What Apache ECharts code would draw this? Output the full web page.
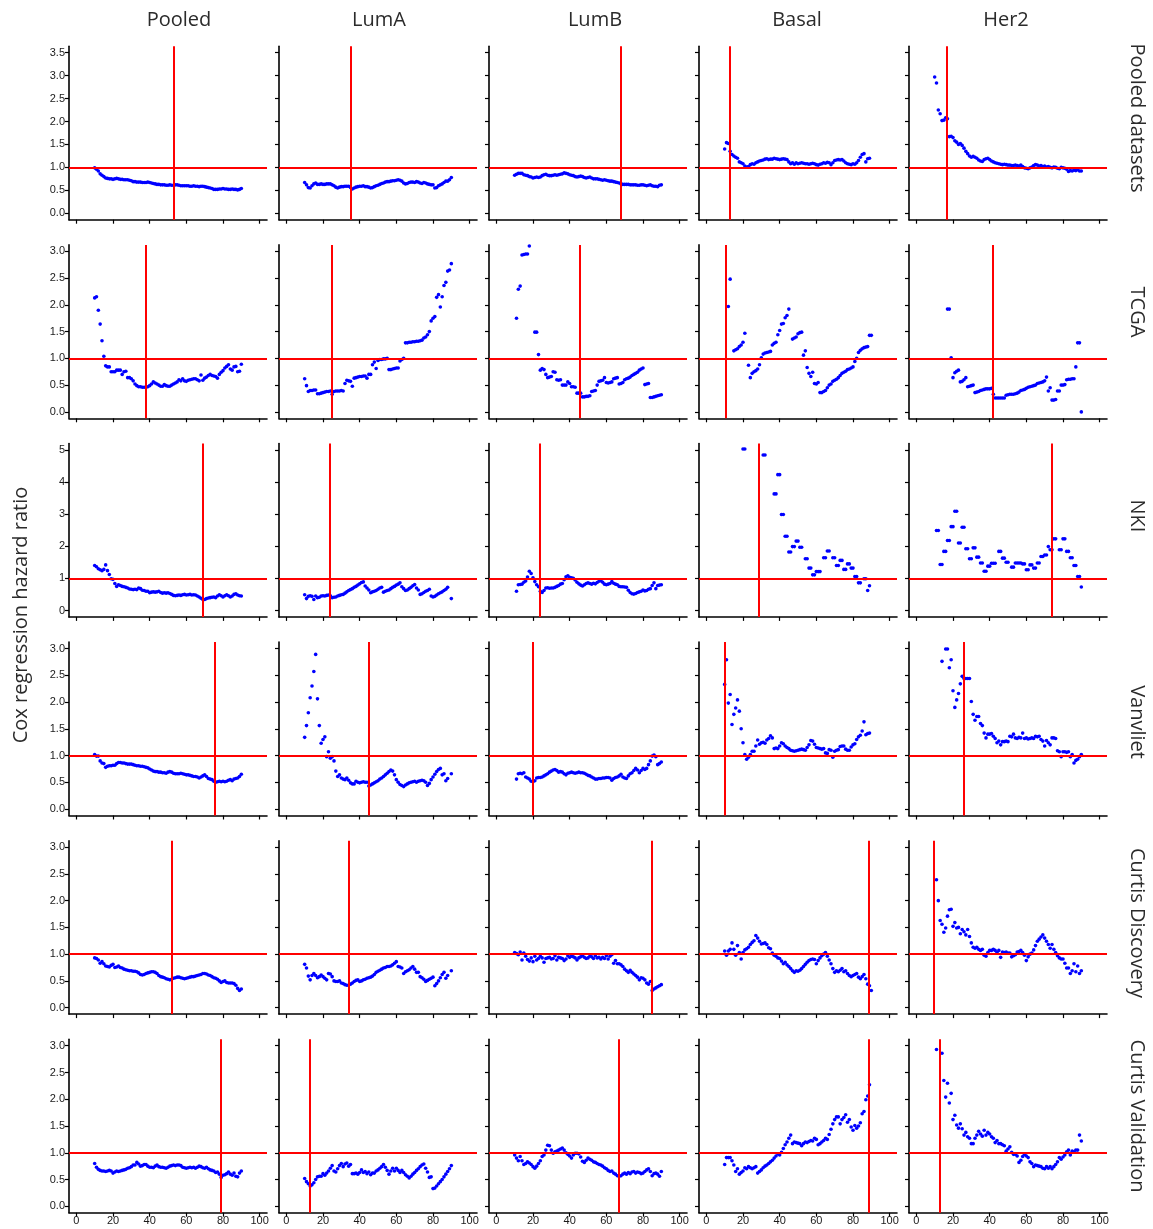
<!DOCTYPE html>
<html>
<head>
<meta charset="utf-8">
<script src="https://cdn.jsdelivr.net/npm/echarts@6/dist/echarts.min.js"></script>
<style>
  html, body { margin: 0; padding: 0; background: #ffffff; }
  #chart { width: 1153px; height: 1229px; }
</style>
</head>
<body>
<div id="chart"></div>
<script>
// Percentile of the expression cutoff (x value shared by every panel)
const percentile = [
  10, 11, 12, 13, 14, 15, 16, 17, 18, 19,
  20, 21, 22, 23, 24, 25, 26, 27, 28, 29,
  30, 31, 32, 33, 34, 35, 36, 37, 38, 39,
  40, 41, 42, 43, 44, 45, 46, 47, 48, 49,
  50, 51, 52, 53, 54, 55, 56, 57, 58, 59,
  60, 61, 62, 63, 64, 65, 66, 67, 68, 69,
  70, 71, 72, 73, 74, 75, 76, 77, 78, 79,
  80, 81, 82, 83, 84, 85, 86, 87, 88, 89,
  90
];

const subtypes = ['Pooled', 'LumA', 'LumB', 'Basal', 'Her2'];
const datasets = ['Pooled datasets', 'TCGA', 'NKI', 'Vanvliet', 'Curtis Discovery', 'Curtis Validation'];
const yTitle = 'Cox regression hazard ratio';

// Axis tick values
const percentTicks = [0, 20, 40, 60, 80, 100];
const hrTicks35 = [0, 0.5, 1, 1.5, 2, 2.5, 3, 3.5];
const hrTicks30 = [0, 0.5, 1, 1.5, 2, 2.5, 3];
const hrTicks5 = [0, 1, 2, 3, 4, 5];

// Optimal cutoff percentile per panel (Pooled, LumA, LumB, Basal, Her2)
const cutPooled = [53, 35, 68, 12.6, 16.5];
const cutTcga = [38, 24.6, 45.5, 10.5, 41.5];
const cutNki = [69, 23.5, 23.5, 28.5, 74];
const cutVanvliet = [75.7, 44.7, 19.7, 10.2, 25.7];
const cutCurtisDisc = [51.8, 33.8, 84.6, 88.6, 9.6];
const cutCurtisVal = [79, 13, 66.8, 88.8, 13];

// Hazard ratios, one value per percentile (null = no estimate)
const pooledAll = [
  0.99, 0.96, 0.92, 0.86, 0.83, 0.80, 0.77, 0.76, 0.75, 0.75,
  0.74, 0.75, 0.76, 0.75, 0.74, 0.74, 0.73, 0.73, 0.73, 0.72,
  0.71, 0.69, 0.69, 0.68, 0.68, 0.68, 0.67, 0.67, 0.67, 0.68,
  0.67, 0.66, 0.65, 0.64, 0.63, 0.63, 0.62, 0.62, 0.62, 0.61,
  0.61, 0.62, 0.61, 0.61, 0.62, 0.62, 0.61, 0.60, 0.60, 0.60,
  0.60, 0.60, 0.59, 0.59, 0.60, 0.59, 0.59, 0.58, 0.59, 0.59,
  0.58, 0.57, 0.56, 0.55, 0.54, 0.52, 0.52, 0.52, 0.53, 0.53,
  0.54, 0.53, 0.53, 0.52, 0.52, 0.53, 0.52, 0.52, 0.51, 0.52,
  0.54
];
const pooledLumA = [
  0.67, 0.62, 0.56, 0.55, 0.60, 0.64, 0.66, 0.63, 0.63, 0.64,
  0.63, 0.63, 0.64, 0.64, 0.64, 0.62, 0.60, 0.57, 0.55, 0.57,
  0.58, 0.58, 0.59, 0.59, 0.59, 0.56, 0.53, 0.55, 0.57, 0.58,
  0.59, 0.59, 0.60, 0.58, 0.58, 0.57, 0.55, 0.56, 0.58, 0.60,
  0.61, 0.63, 0.65, 0.66, 0.68, 0.69, 0.69, 0.70, 0.71, 0.71,
  0.72, 0.73, 0.72, 0.70, 0.66, 0.64, 0.65, 0.67, 0.68, 0.68,
  0.67, 0.69, 0.68, 0.66, 0.65, 0.67, 0.66, 0.64, 0.63, 0.62,
  0.62, 0.55, 0.56, 0.60, 0.62, 0.64, 0.67, 0.70, 0.70, 0.73,
  0.78
];
const pooledLumB = [
  0.83, 0.85, 0.87, 0.87, 0.87, 0.84, 0.83, 0.82, 0.80, 0.79,
  0.77, 0.78, 0.79, 0.78, 0.79, 0.82, 0.84, 0.85, 0.83, 0.82,
  0.82, 0.83, 0.84, 0.83, 0.84, 0.85, 0.86, 0.88, 0.87, 0.86,
  0.84, 0.83, 0.82, 0.80, 0.79, 0.80, 0.81, 0.80, 0.78, 0.77,
  0.78, 0.79, 0.77, 0.75, 0.75, 0.75, 0.74, 0.73, 0.72, 0.73,
  0.72, 0.71, 0.70, 0.70, 0.69, 0.68, 0.67, 0.66, 0.64, 0.63,
  0.63, 0.63, 0.63, 0.62, 0.62, 0.62, 0.62, 0.61, 0.61, 0.62,
  0.62, 0.61, 0.60, 0.61, 0.62, 0.60, 0.59, 0.59, 0.58, 0.61,
  0.62
];
const pooledBasal = [
  1.40, 1.54, 1.52, 1.35, 1.28, 1.25, 1.22, 1.20, 1.12, 1.10,
  1.08, 1.03, 1.01, 1.02, 1.06, 1.08, 1.07, 1.10, 1.12, 1.14,
  1.15, 1.16, 1.18, 1.19, 1.17, 1.18, 1.18, 1.20, 1.19, 1.18,
  1.17, 1.18, 1.19, 1.18, 1.17, 1.12, 1.08, 1.10, 1.07, 1.10,
  1.08, 1.09, 1.10, 1.09, 1.08, 1.08, 1.07, 1.08, 1.09, 1.08,
  1.06, 1.05, 1.07, 1.08, 1.10, 1.09, 1.11, 1.10, 1.06, 1.10,
  1.15, 1.16, 1.17, 1.16, 1.17, 1.14, 1.10, 1.08, 1.07, 1.06,
  1.08, 1.07, 1.10, 1.15, 1.22, 1.28, 1.30, 1.12, 1.19, 1.20,
  null
];
const pooledHer2 = [
  2.97, 2.84, 2.25, 2.17, 2.02, 2.03, 2.08, 2.06, 1.67, 1.68,
  1.65, 1.58, 1.55, 1.50, 1.52, 1.48, 1.42, 1.35, 1.30, 1.25,
  1.22, 1.24, 1.22, 1.20, 1.16, 1.14, 1.13, 1.17, 1.19, 1.20,
  1.17, 1.14, 1.12, 1.10, 1.09, 1.08, 1.07, 1.06, 1.07, 1.06,
  1.05, 1.05, 1.04, 1.04, 1.05, 1.04, 1.03, 1.05, 1.02, 0.99,
  0.98, 0.97, 0.99, 1.01, 1.04, 1.06, 1.05, 1.03, 1.04, 1.02,
  1.03, 1.01, 1.02, 1.00, 0.99, 1.01, 1.00, 0.98, 0.97, 1.00,
  0.99, 0.98, 0.96, 0.91, 0.93, 0.92, 0.94, 0.93, 0.95, 0.92,
  0.92
];

const tcgaAll = [
  2.13, 2.15, 1.90, 1.64, 1.33, 1.04, 0.86, 0.84, 0.84, 0.75,
  0.75, 0.75, 0.78, 0.78, 0.78, 0.70, 0.75, 0.76, 0.64, 0.64,
  0.62, 0.58, 0.52, 0.49, 0.47, 0.47, 0.46, 0.46, 0.46, 0.47,
  0.49, 0.52, 0.56, 0.54, 0.52, 0.50, 0.48, 0.48, 0.51, 0.49,
  0.48, 0.48, 0.50, 0.52, 0.54, 0.56, 0.60, 0.58, 0.62, 0.58,
  0.57, 0.59, 0.60, 0.61, 0.62, 0.62, 0.60, 0.58, 0.69, 0.59,
  0.63, 0.65, 0.68, 0.70, 0.68, 0.67, 0.66, 0.63, 0.70, 0.74,
  0.77, 0.82, 0.85, 0.88, 0.80, 0.78, 0.84, 0.85, 0.75, 0.76,
  0.89
];
const tcgaLumA = [
  0.62, 0.49, 0.38, 0.40, 0.40, 0.41, 0.41, 0.34, 0.34, 0.35,
  0.36, 0.37, 0.38, 0.38, 0.39, 0.33, 0.38, 0.39, 0.39, 0.39,
  0.40, 0.39, 0.53, 0.59, 0.58, 0.57, 0.48, 0.63, 0.64, 0.65,
  0.66, 0.66, 0.67, 0.67, 0.63, 0.70, 0.70, 0.88, 0.93, 0.81,
  0.96, 0.98, 0.98, 0.99, 0.99, 1.00, 0.79, 0.79, 0.80, 0.81,
  0.82, 0.82, 0.95, 0.98, 1.00, 1.29, 1.29, 1.30, 1.30, 1.31,
  1.31, 1.32, 1.32, 1.33, 1.34, 1.38, 1.40, 1.44, 1.50, 1.70,
  1.75, 1.78, 2.14, 2.19, 1.96, 2.15, 2.36, 2.42, 2.63, 2.65,
  2.77
];
const tcgaLumB = [
  null, 1.75, 2.29, 2.35, 2.93, 2.94, 2.95, 2.95, 3.10, null,
  null, 1.49, 1.49, 1.07, 0.78, 0.81, 0.79, 0.70, 0.64, 0.65,
  0.66, 0.75, 0.74, 0.60, 0.59, 0.60, 0.50, 0.50, 0.50, 0.56,
  0.53, 0.47, 0.47, 0.46, 0.35, 0.35, 0.35, 0.28, 0.28, 0.29,
  0.29, 0.30, 0.38, 0.39, 0.40, 0.50, 0.57, 0.58, 0.59, 0.64,
  0.55, 0.54, 0.55, 0.56, 0.62, 0.63, 0.64, 0.52, 0.53, 0.55,
  0.60, 0.62, 0.63, 0.65, 0.68, 0.70, 0.72, 0.74, 0.78, 0.80,
  0.82, 0.51, 0.52, 0.53, 0.27, 0.27, 0.28, 0.29, 0.30, 0.31,
  0.32
];
const tcgaBasal = [
  null, null, 1.97, 2.48, null, 1.14, 1.16, 1.18, 1.22, 1.25,
  1.30, 1.47, null, 0.87, 0.64, 0.72, 0.75, 0.77, 0.80, 0.88,
  1.01, 1.08, 1.10, 1.11, 1.12, 1.13, 1.25, 1.28, 1.30, 1.44,
  1.52, 1.64, 1.65, 1.76, 1.80, 1.92, null, 1.36, 1.38, 1.40,
  1.46, 1.48, 1.49, 1.06, 1.14, 0.83, 0.72, 0.66, 0.74, 0.53,
  0.52, 0.55, 0.36, 0.36, 0.38, 0.40, 0.45, 0.50, 0.52, 0.57,
  0.59, 0.61, 0.64, 0.68, 0.72, 0.74, 0.76, 0.79, 0.80, 0.82,
  0.84, 0.94, 1.00, 1.11, 1.15, 1.18, 1.20, 1.21, 1.22, 1.43,
  1.43
];
const tcgaHer2 = [
  null, null, null, null, null, null, null, 1.92, 1.92, 1.01,
  0.64, 0.73, 0.76, 0.78, 0.56, 0.57, 0.60, 0.64, 0.47, 0.48,
  0.49, 0.50, 0.36, 0.37, 0.38, 0.40, 0.41, 0.42, 0.43, 0.43,
  0.43, 0.44, 0.33, 0.26, 0.26, 0.26, 0.26, 0.26, 0.26, 0.31,
  0.32, 0.33, 0.33, 0.33, 0.34, 0.35, 0.37, 0.40, 0.41, 0.42,
  0.44, 0.46, 0.47, 0.48, 0.49, 0.50, 0.53, 0.54, 0.55, 0.56,
  0.58, 0.65, 0.39, 0.45, 0.22, 0.22, 0.23, 0.39, 0.39, 0.50,
  0.50, 0.51, 0.60, 0.61, 0.61, 0.62, 0.62, 0.84, 1.29, 1.29,
  0.00
];

const nkiAll = [
  1.40, 1.36, 1.30, 1.27, 1.24, 1.28, 1.42, 1.24, 1.12, 0.99,
  0.97, 0.84, 0.75, 0.80, 0.78, 0.75, 0.74, 0.72, 0.70, 0.67,
  0.66, 0.65, 0.66, 0.65, 0.70, 0.68, 0.63, 0.62, 0.60, 0.60,
  0.55, 0.57, 0.58, 0.57, 0.58, 0.60, 0.56, 0.54, 0.55, 0.54,
  0.55, 0.53, 0.50, 0.47, 0.46, 0.47, 0.48, 0.47, 0.49, 0.50,
  0.48, 0.49, 0.50, 0.48, 0.49, 0.48, 0.45, 0.42, 0.38, 0.34,
  0.34, 0.37, 0.39, 0.40, 0.41, 0.42, 0.40, 0.45, 0.49, 0.46,
  0.42, 0.46, 0.49, 0.46, 0.42, 0.45, 0.50, 0.52, 0.48, 0.46,
  0.45
];
const nkiLumA = [
  0.49, 0.37, 0.44, 0.46, 0.44, 0.34, 0.45, 0.40, 0.41, 0.45,
  0.46, 0.45, 0.47, 0.48, 0.46, 0.40, 0.41, 0.42, 0.45, 0.47,
  0.49, 0.50, 0.54, 0.58, 0.62, 0.65, 0.68, 0.72, 0.75, 0.79,
  0.83, 0.87, 0.89, 0.76, 0.70, 0.64, 0.55, 0.58, 0.60, 0.62,
  0.66, 0.70, 0.72, 0.57, 0.60, 0.62, 0.64, 0.68, 0.72, 0.75,
  0.79, 0.82, 0.86, 0.74, 0.68, 0.62, 0.64, 0.68, 0.72, 0.77,
  0.81, 0.70, 0.64, 0.50, 0.52, 0.56, 0.60, 0.62, 0.66, 0.45,
  0.42, 0.44, 0.48, 0.52, 0.55, 0.58, 0.62, 0.66, 0.72, null,
  0.37
];
const nkiLumB = [
  null, 0.60, 0.80, 0.81, 0.82, 0.88, 0.92, 1.04, 1.22, 1.15,
  1.02, 0.90, 0.80, 0.74, 0.60, 0.56, 0.62, 0.70, 0.71, 0.69,
  0.70, 0.70, 0.72, 0.75, 0.78, 0.82, 0.84, 0.96, 1.05, 1.08,
  1.03, 1.02, 1.00, 0.95, 0.88, 0.83, 0.79, 0.76, 0.80, 0.84,
  0.86, 0.84, 0.82, 0.85, 0.83, 0.87, 0.91, 0.93, 0.88, 0.82,
  0.80, 0.82, 0.84, 0.90, 0.85, 0.82, 0.80, 0.75, 0.74, 0.74,
  0.73, 0.72, 0.63, 0.56, 0.52, 0.51, 0.53, 0.56, 0.58, 0.60,
  0.64, 0.61, 0.62, 0.66, 0.68, 0.78, 0.86, 0.68, 0.78, 0.79,
  0.80
];
const nkiBasal = [
  null, null, null, null, null, null, null, null, null, null,
  5.03, 5.03, null, null, null, null, null, null, null, null,
  null, 4.84, 4.84, null, null, null, null, 3.63, 3.63, 4.23,
  4.23, 2.99, 2.99, 2.31, 2.31, 1.82, 1.82, 1.99, 1.99, 2.16,
  2.16, 1.97, 1.97, null, 1.61, 1.61, 1.32, 1.32, 1.11, 1.11,
  1.21, 1.21, 1.21, null, 1.64, 1.64, 1.85, 1.85, null, 1.64,
  1.64, 1.40, 1.40, 1.56, 1.56, 1.28, 1.28, 1.45, 1.45, 1.32,
  1.32, 1.06, 1.06, 0.86, 0.86, null, 0.99, 0.99, 0.62, 0.77,
  null
];
const nkiHer2 = [
  null, 2.49, 2.49, 1.43, 1.43, 1.84, 1.84, 2.18, 2.18, 2.61,
  2.61, 3.09, 3.09, 2.10, 2.10, 2.59, 2.59, 1.92, 1.92, 1.61,
  1.61, 1.95, 1.95, 1.66, 1.66, 1.48, 1.48, 1.22, 1.22, 1.38,
  1.38, 1.47, 1.47, 1.47, null, 1.84, 1.84, 1.63, 1.63, 1.50,
  1.50, null, 1.35, 1.35, 1.48, 1.48, 1.48, 1.48, 1.45, 1.45,
  1.27, 1.27, 1.42, 1.42, 1.32, 1.32, 1.48, 1.48, 1.68, 1.68,
  1.73, 1.73, 1.99, 1.89, 1.89, 2.23, 2.23, null, 1.89, 1.89,
  2.23, 2.23, 1.84, 1.84, 1.64, 1.64, 1.40, 1.40, 1.06, 1.06,
  0.73
];

const vanvlietAll = [
  1.02, 0.99, 0.99, 0.90, 0.86, 0.85, 0.78, 0.80, 0.81, 0.81,
  0.82, 0.82, 0.85, 0.87, 0.87, 0.86, 0.86, 0.85, 0.84, 0.84,
  0.84, 0.83, 0.82, 0.81, 0.81, 0.80, 0.80, 0.79, 0.78, 0.77,
  0.75, 0.73, 0.71, 0.70, 0.70, 0.69, 0.69, 0.68, 0.68, 0.67,
  0.69, 0.70, 0.69, 0.67, 0.66, 0.66, 0.66, 0.67, 0.66, 0.65,
  0.64, 0.64, 0.63, 0.62, 0.61, 0.61, 0.60, 0.58, 0.60, 0.62,
  0.64, 0.61, 0.57, 0.56, 0.55, 0.52, 0.50, 0.51, 0.52, 0.51,
  0.52, 0.51, 0.52, 0.54, 0.55, 0.53, 0.56, 0.57, 0.58, 0.61,
  0.65
];
const vanvlietLumA = [
  1.34, 1.56, 1.80, 2.08, 2.30, 2.57, 2.89, 2.06, 1.56, 1.23,
  1.30, 1.35, 0.98, 1.07, 0.95, 0.98, 0.90, 0.71, 0.61, 0.64,
  0.58, 0.56, 0.55, 0.58, 0.54, 0.49, 0.47, 0.47, 0.52, 0.50,
  0.49, 0.50, 0.51, 0.50, 0.50, 0.43, 0.45, 0.47, 0.49, 0.51,
  0.53, 0.56, 0.58, 0.61, 0.64, 0.67, 0.70, 0.73, 0.71, 0.64,
  0.55, 0.50, 0.46, 0.44, 0.42, 0.45, 0.47, 0.49, 0.50, 0.51,
  0.52, 0.50, 0.52, 0.53, 0.54, 0.53, 0.50, 0.44, 0.48, 0.55,
  0.60, 0.65, 0.70, 0.74, 0.76, 0.64, 0.66, 0.53, 0.57, null,
  0.66
];
const vanvlietLumB = [
  null, 0.56, 0.66, 0.67, 0.66, 0.68, 0.60, 0.58, 0.56, 0.52,
  0.51, 0.53, 0.58, 0.59, 0.59, 0.60, 0.62, 0.64, 0.66, 0.69,
  0.71, 0.73, 0.74, 0.72, 0.69, 0.70, 0.69, 0.66, 0.64, 0.67,
  0.68, 0.69, 0.68, 0.67, 0.68, 0.69, 0.68, 0.68, 0.67, 0.65,
  0.63, 0.62, 0.60, 0.58, 0.56, 0.56, 0.57, 0.57, 0.58, 0.58,
  0.59, 0.59, 0.58, 0.54, 0.57, 0.59, 0.60, 0.62, 0.65, 0.60,
  0.58, 0.57, 0.62, 0.66, 0.68, 0.72, 0.76, 0.73, 0.68, 0.72,
  0.76, 0.74, 0.76, 0.83, 0.90, 0.99, 1.01, 0.98, 0.83, 0.85,
  0.88
];
const vanvlietBasal = [
  2.33, 2.79, 1.98, 2.14, 1.58, 1.77, 1.89, 2.04, 1.83, 1.50,
  1.24, 1.02, 0.93, 0.97, 1.02, 1.08, 1.08, 1.18, 1.29, 1.21,
  1.24, 1.25, 1.23, 1.29, 1.32, 1.37, 1.33, 1.13, 1.14, 1.13,
  1.18, 1.24, 1.22, 1.18, 1.15, 1.13, 1.10, 1.09, 1.08, 1.09,
  1.10, 1.11, 1.12, 1.11, 1.10, 1.15, 1.20, 1.28, 1.27, 1.21,
  1.15, 1.14, 1.13, 1.12, 1.13, 1.05, 1.04, 1.11, 1.10, 0.97,
  1.08, 1.10, 1.11, 1.17, 1.18, 1.18, 1.12, 1.10, 1.10, 1.16,
  1.20, 1.22, 1.30, 1.35, 1.38, 1.46, 1.63, 1.39, 1.41, 1.42,
  null
];
const vanvlietHer2 = [
  null, null, null, null, 2.76, null, 2.99, 2.99, 2.64, 2.79,
  2.21, 1.90, 2.04, 2.16, 2.34, 2.48, 2.44, 2.44, 2.44, 2.44,
  2.01, 1.77, 1.66, 1.73, 1.73, 1.60, 1.56, 1.42, 1.33, 1.40,
  1.40, 1.41, 1.36, 1.32, 1.24, 1.27, 1.20, 1.26, 1.26, 1.27,
  1.26, 1.36, 1.35, 1.40, 1.33, 1.32, 1.34, 1.33, 1.42, 1.32,
  1.33, 1.31, 1.32, 1.33, 1.32, 1.36, 1.35, 1.36, 1.30, 1.27,
  1.18, 1.28, 1.24, 1.20, 1.33, 1.33, 1.32, 1.09, 1.07, 0.98,
  1.07, 1.07, 1.06, 1.07, 0.98, 1.02, 0.86, 0.91, 0.93, 0.98,
  1.02
];

const curtisDiscAll = [
  0.93, 0.92, 0.89, 0.83, 0.86, 0.82, 0.78, 0.77, 0.76, 0.79,
  0.81, 0.75, 0.76, 0.78, 0.75, 0.74, 0.72, 0.71, 0.70, 0.69,
  0.69, 0.68, 0.68, 0.67, 0.65, 0.62, 0.61, 0.62, 0.64, 0.65,
  0.66, 0.67, 0.67, 0.66, 0.64, 0.60, 0.58, 0.57, 0.56, 0.54,
  0.53, 0.52, 0.53, 0.55, 0.56, 0.57, 0.57, 0.56, 0.55, 0.54,
  0.55, 0.56, 0.57, 0.58, 0.58, 0.59, 0.60, 0.61, 0.62, 0.64,
  0.64, 0.63, 0.61, 0.60, 0.58, 0.56, 0.55, 0.53, 0.50, 0.47,
  0.49, 0.50, 0.47, 0.46, 0.46, 0.46, 0.45, 0.42, 0.36, 0.32,
  0.35
];
const curtisDiscLumA = [
  0.81, 0.74, 0.59, 0.52, 0.60, 0.64, 0.60, 0.56, 0.58, 0.61,
  0.58, 0.55, 0.52, 0.64, 0.63, 0.58, 0.50, 0.49, 0.49, 0.50,
  0.46, 0.45, 0.43, 0.42, 0.42, 0.44, 0.46, 0.49, 0.51, 0.52,
  0.49, 0.50, 0.52, 0.53, 0.55, 0.56, 0.57, 0.59, 0.62, 0.66,
  0.68, 0.70, 0.72, 0.74, 0.75, 0.77, 0.77, 0.78, 0.80, 0.83,
  0.86, 0.77, 0.76, 0.74, 0.64, 0.67, 0.69, 0.71, 0.74, 0.77,
  0.72, 0.66, 0.66, 0.58, 0.56, 0.53, 0.49, 0.51, 0.53, 0.55,
  0.57, 0.41, 0.45, 0.50, 0.56, 0.62, 0.66, 0.55, 0.60, null,
  0.69
];
const curtisDiscLumB = [
  1.03, 1.01, 0.99, 1.04, 0.89, 1.02, 0.96, 0.90, 0.87, 0.93,
  0.86, 0.96, 0.89, 0.92, 0.96, 0.93, 0.85, 0.92, 0.93, 0.94,
  0.91, 0.92, 0.97, 0.89, 0.94, 0.93, 0.92, 0.88, 0.91, 0.97,
  0.94, 0.96, 0.95, 0.93, 0.89, 0.93, 0.95, 0.97, 0.94, 0.92,
  0.93, 0.96, 0.95, 0.92, 0.97, 0.93, 0.94, 0.91, 0.94, 0.92,
  0.97, 0.91, 0.96, 0.99, 0.83, 0.88, 0.82, 0.82, 0.80, 0.77,
  0.72, 0.69, 0.66, 0.70, 0.66, 0.63, 0.60, 0.57, 0.52, 0.56,
  0.55, 0.52, 0.46, 0.44, 0.49, 0.32, 0.35, 0.37, 0.39, 0.41,
  0.43
];
const curtisDiscBasal = [
  1.06, 0.98, 1.06, 1.09, 1.21, 1.09, 0.98, 1.16, 1.03, 0.91,
  1.03, 1.08, 1.10, 1.13, 1.18, 1.22, 1.25, 1.35, 1.30, 1.24,
  1.19, 1.20, 1.21, 1.18, 1.12, 1.10, 1.02, 0.98, 0.96, 0.93,
  0.92, 0.87, 0.82, 0.85, 0.80, 0.77, 0.73, 0.69, 0.66, 0.69,
  0.68, 0.70, 0.73, 0.77, 0.81, 0.85, 0.88, 0.90, 0.91, 0.90,
  0.82, 0.88, 0.93, 0.97, 1.00, 1.03, 0.96, 0.89, 0.82, 0.73,
  0.66, 0.69, 0.67, 0.70, 0.73, 0.67, 0.69, 0.64, 0.60, 0.58,
  0.60, 0.62, 0.64, 0.57, 0.54, 0.58, 0.62, 0.54, 0.44, 0.41,
  0.32
];
const curtisDiscHer2 = [
  null, 2.39, 2.00, 1.63, 1.56, 1.41, 1.49, 1.71, 1.83, 1.84,
  1.52, 1.59, 1.49, 1.50, 1.38, 1.46, 1.42, 1.36, 1.46, 1.33,
  1.21, 1.13, 1.11, 1.13, 1.09, 1.07, 1.09, 0.98, 0.96, 1.03,
  1.07, 1.07, 1.09, 1.07, 1.03, 1.07, 0.94, 1.04, 1.03, 1.04,
  1.02, 1.02, 0.95, 0.97, 0.99, 1.04, 1.05, 1.07, 1.03, 0.98,
  0.88, 0.95, 1.00, 1.02, 1.08, 1.16, 1.24, 1.28, 1.32, 1.36,
  1.30, 1.24, 1.18, 1.11, 1.18, 1.09, 1.03, 0.97, 0.93, 0.91,
  0.91, 0.83, 0.74, 0.74, 0.64, 0.69, 0.82, 0.67, 0.78, 0.64,
  0.69
];

const curtisValAll = [
  0.80, 0.73, 0.69, 0.67, 0.66, 0.66, 0.65, 0.66, 0.67, 0.66,
  0.62, 0.64, 0.66, 0.65, 0.66, 0.67, 0.68, 0.69, 0.71, 0.72,
  0.74, 0.77, 0.77, 0.82, 0.79, 0.75, 0.76, 0.78, 0.78, 0.75,
  0.73, 0.73, 0.72, 0.75, 0.77, 0.74, 0.73, 0.73, 0.72, 0.71,
  0.73, 0.75, 0.76, 0.77, 0.76, 0.77, 0.77, 0.76, 0.73, 0.72,
  0.71, 0.72, 0.73, 0.72, 0.73, 0.71, 0.73, 0.75, 0.74, 0.72,
  0.71, 0.73, 0.70, 0.68, 0.67, 0.66, 0.63, 0.64, 0.60, 0.54,
  0.58, 0.59, 0.61, 0.64, 0.60, 0.58, 0.62, 0.56, 0.55, 0.62,
  0.66
];
const curtisValLumA = [
  0.52, 0.46, 0.42, 0.38, 0.40, 0.44, 0.50, 0.55, 0.56, 0.56,
  0.61, 0.58, 0.62, 0.66, 0.71, 0.76, 0.66, 0.64, 0.70, 0.76,
  0.80, 0.74, 0.79, 0.81, 0.75, 0.78, 0.61, 0.61, 0.62, 0.60,
  0.63, 0.68, 0.63, 0.65, 0.61, 0.64, 0.59, 0.62, 0.62, 0.66,
  0.68, 0.71, 0.74, 0.78, 0.73, 0.67, 0.60, 0.66, 0.71, 0.66,
  0.71, 0.67, 0.63, 0.67, 0.63, 0.59, 0.56, 0.53, 0.56, 0.60,
  0.63, 0.67, 0.70, 0.74, 0.77, 0.79, 0.71, 0.64, 0.54, 0.55,
  0.33, 0.34, 0.38, 0.42, 0.46, 0.50, 0.55, 0.60, 0.65, 0.70,
  0.76
];
const curtisValLumB = [
  0.96, 0.90, 0.85, 0.93, 0.85, 0.78, 0.80, 0.83, 0.81, 0.78,
  0.74, 0.71, 0.75, 0.80, 0.85, 0.93, 0.96, 1.05, 1.14, 1.13,
  1.05, 0.99, 1.02, 1.03, 1.05, 1.07, 1.09, 1.05, 1.00, 0.97,
  0.94, 0.90, 0.96, 0.99, 0.99, 0.98, 0.92, 0.84, 0.82, 0.86,
  0.90, 0.88, 0.86, 0.83, 0.82, 0.80, 0.78, 0.77, 0.75, 0.72,
  0.70, 0.67, 0.65, 0.66, 0.62, 0.60, 0.57, 0.56, 0.57, 0.60,
  0.62, 0.60, 0.63, 0.61, 0.64, 0.65, 0.62, 0.64, 0.63, 0.61,
  0.62, 0.65, 0.68, 0.70, 0.65, 0.57, 0.61, 0.62, 0.60, 0.56,
  0.65
];
const curtisValBasal = [
  0.78, 0.91, 0.91, 0.91, 0.85, 0.77, 0.65, 0.70, 0.60, 0.63,
  0.66, 0.72, 0.70, 0.74, 0.72, 0.70, 0.72, 0.74, 0.62, 0.65,
  0.68, 0.72, 0.75, 0.77, 0.80, 0.83, 0.86, 0.90, 0.94, 0.98,
  0.96, 1.01, 1.08, 1.15, 1.20, 1.27, 1.33, 1.17, 1.20, 1.19,
  1.18, 1.17, 1.13, 1.17, 1.20, 1.19, 1.21, 1.23, 1.22, 1.27,
  1.25, 1.15, 1.17, 1.20, 1.23, 1.27, 1.25, 1.34, 1.44, 1.54,
  1.62, 1.67, 1.67, 1.54, 1.62, 1.66, 1.71, 1.57, 1.62, 1.48,
  1.42, 1.51, 1.46, 1.50, 1.56, 1.73, 1.77, 1.99, 2.06, 2.27,
  null
];
const curtisValHer2 = [
  null, 2.93, null, null, 2.86, 2.35, 2.04, 2.30, 1.93, 2.11,
  1.62, 1.70, 1.52, 1.46, 1.54, 1.45, 1.33, 1.38, 1.30, 1.27,
  1.17, 1.17, 1.27, 1.33, 1.40, 1.35, 1.31, 1.42, 1.33, 1.38,
  1.35, 1.30, 1.27, 1.19, 1.23, 1.17, 1.17, 1.15, 1.13, 1.03,
  1.07, 1.11, 1.01, 0.97, 0.97, 0.94, 0.82, 0.86, 0.93, 0.97,
  0.94, 0.91, 0.83, 0.80, 0.74, 0.77, 0.76, 0.75, 0.74, 0.71,
  0.70, 0.74, 0.71, 0.74, 0.70, 0.74, 0.78, 0.83, 0.91, 0.88,
  0.92, 0.96, 1.02, 1.05, 0.96, 1.03, 1.02, 1.05, 1.05, 1.33,
  1.22
];

// Assemble the panel table: rows = datasets, columns = subtypes
const panelValues = [
  [pooledAll, pooledLumA, pooledLumB, pooledBasal, pooledHer2],
  [tcgaAll, tcgaLumA, tcgaLumB, tcgaBasal, tcgaHer2],
  [nkiAll, nkiLumA, nkiLumB, nkiBasal, nkiHer2],
  [vanvlietAll, vanvlietLumA, vanvlietLumB, vanvlietBasal, vanvlietHer2],
  [curtisDiscAll, curtisDiscLumA, curtisDiscLumB, curtisDiscBasal, curtisDiscHer2],
  [curtisValAll, curtisValLumA, curtisValLumB, curtisValBasal, curtisValHer2]
];
const panelCuts = [cutPooled, cutTcga, cutNki, cutVanvliet, cutCurtisDisc, cutCurtisVal];
const rowTicks = [hrTicks35, hrTicks30, hrTicks5, hrTicks30, hrTicks30, hrTicks30];

// Layout of the 6 x 5 panel matrix (pixels)
const LAYOUT = {
  left: 69, colStep: 210, width: 198,
  top: 46.3, rowStep: 198.6, height: 173.4
};
const TICK_FONT = '"Liberation Sans", Arial, sans-serif';
const TITLE_FONT = '"Open Sans", "Noto Sans", sans-serif';
const AXIS_COLOR = '#000000';

const grids = [], xAxes = [], yAxes = [], series = [];
datasets.forEach(function (ds, r) {
  const ticks = rowTicks[r];
  const top = ticks[ticks.length - 1];
  const yMin = -0.04 * top, yMax = 1.04 * top;
  const integerTicks = ticks.every(function (t) { return Number.isInteger(t); });
  subtypes.forEach(function (st, c) {
    const idx = grids.length;
    grids.push({
      left: LAYOUT.left + c * LAYOUT.colStep,
      top: LAYOUT.top + r * LAYOUT.rowStep,
      width: LAYOUT.width,
      height: LAYOUT.height
    });
    xAxes.push({
      gridIndex: idx, type: 'value', min: -4, max: 104,
      axisLine: { show: true, onZero: false, lineStyle: { color: AXIS_COLOR, width: 1.6 } },
      axisTick: { show: true, customValues: percentTicks, length: 4, lineStyle: { color: AXIS_COLOR, width: 1.2 } },
      axisLabel: {
        show: r === datasets.length - 1, customValues: percentTicks,
        fontSize: 11, color: '#1a1a1a', margin: 3, fontFamily: TICK_FONT
      },
      splitLine: { show: false }
    });
    yAxes.push({
      gridIndex: idx, type: 'value', min: yMin, max: yMax,
      axisLine: { show: true, onZero: false, lineStyle: { color: AXIS_COLOR, width: 1.6 } },
      axisTick: { show: true, customValues: ticks, length: 4, lineStyle: { color: AXIS_COLOR, width: 1.2 } },
      axisLabel: {
        show: c === 0, customValues: ticks,
        fontSize: 11, color: '#1a1a1a', margin: 4, fontFamily: TICK_FONT,
        formatter: function (v) { return integerTicks ? String(Math.round(v)) : v.toFixed(1); }
      },
      splitLine: { show: false }
    });
    const values = panelValues[r][c];
    const points = [];
    percentile.forEach(function (p, i) {
      if (values[i] !== null) points.push([p, values[i]]);
    });
    series.push({
      type: 'scatter', name: ds + ' / ' + st,
      xAxisIndex: idx, yAxisIndex: idx,
      data: points, symbol: 'circle', symbolSize: 3.6,
      itemStyle: { color: '#0000ff', opacity: 1 },
      silent: true, animation: false,
      markLine: {
        silent: true, animation: false, symbol: ['none', 'none'],
        label: { show: false },
        lineStyle: { color: '#ff0000', width: 2, type: 'solid', opacity: 1 },
        data: [{ xAxis: panelCuts[r][c] }, { yAxis: 1 }]
      }
    });
  });
});

// Column headers, row strip labels and the shared y-axis title
const headerX = [179, 379, 595, 797, 1006];
const stripY = [118, 312, 516, 722, 923, 1116];
const graphics = [];
function textEl(text, x, y, rotation) {
  return {
    type: 'text', x: x, y: y, rotation: rotation || 0, silent: true,
    style: {
      text: text, fill: '#2b2b2b', fontSize: 20, fontFamily: TITLE_FONT,
      textAlign: 'center', textVerticalAlign: 'middle', align: 'center', verticalAlign: 'middle'
    }
  };
}
subtypes.forEach(function (st, c) { graphics.push(textEl(st, headerX[c], 20)); });
datasets.forEach(function (ds, r) { graphics.push(textEl(ds, 1137, stripY[r], -Math.PI / 2)); });
graphics.push(textEl(yTitle, 21, 615, Math.PI / 2));

const chart = echarts.init(document.getElementById('chart'), null, { renderer: 'canvas' });
chart.setOption({
  backgroundColor: '#ffffff',
  animation: false,
  grid: grids,
  xAxis: xAxes,
  yAxis: yAxes,
  series: series,
  graphic: graphics
});
</script>
</body>
</html>
